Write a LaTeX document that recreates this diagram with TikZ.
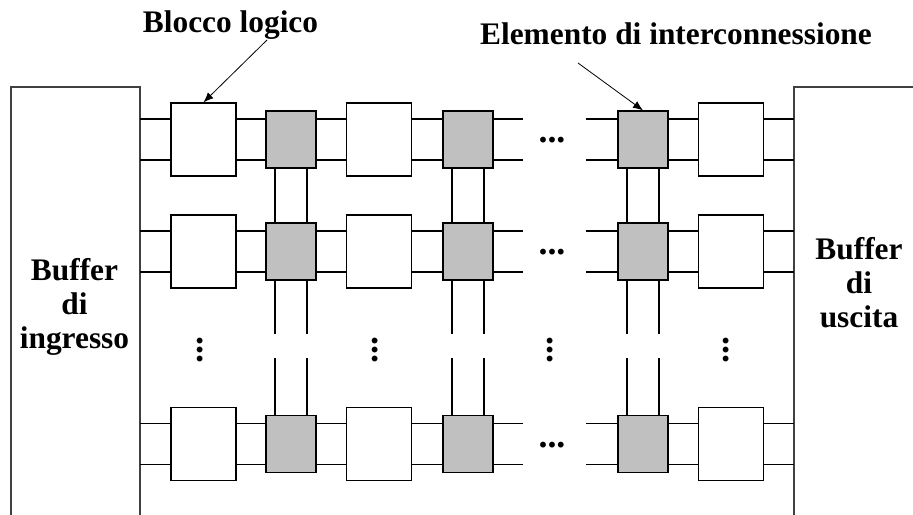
\documentclass[tikz,border=0pt]{standalone}
\usepackage{fontspec}
\setmainfont{Liberation Serif}
\usetikzlibrary{arrows.meta}
\definecolor{ieshade}{HTML}{C0C0C0}
\tikzset{
        logic/.style={draw=black, line width=1.2bp, fill=white, minimum width=65bp, minimum height=73bp, inner sep=0pt},
        inter/.style={draw=black, line width=1.2bp, fill=ieshade, minimum width=50bp, minimum height=57bp, inner sep=0pt},
        wire/.style={line width=1.9bp},
        buffer/.style={line width=1.1bp, draw=black!75},
        caption/.style={font=\bfseries\fontsize{31.5}{34}\selectfont, inner sep=0pt, align=center},
        more/.style={font=\bfseries\fontsize{36}{36}\selectfont, inner sep=0pt},
        pointer/.style={line width=0.8bp, -{Latex[length=10bp, width=8bp]}}
          }

\begin{document}
\begin{tikzpicture}[x=1bp, y=-1bp]
  \useasboundingbox (0,0) rectangle (913,515);

  % buffers at both sides
  \draw[buffer] (11,515) -- (11,87) -- (140,87) -- (140,515);
  \draw[buffer] (794,515) -- (794,87) -- (913,87);

  % rows of logic blocks and interconnection elements
  \foreach \r/\y in {1/139.5, 2/251.5, 3/444}{
    \node[logic] (L\r1) at (203.5,\y) {};
    \node[inter] (I\r1) at (291,\y) {};
    \node[logic] (L\r2) at (379,\y) {};
    \node[inter] (I\r2) at (468,\y) {};
    \node[inter] (I\r3) at (643,\y) {};
    \node[logic] (L\r3) at (731,\y) {};
    \coordinate (in\r) at (140,\y);
    \coordinate (out\r) at (794,\y);
    \coordinate (gl\r) at (523,\y);
    \coordinate (gr\r) at (586,\y);
    \node[more] (hd\r) at (552,\y+1) {...};
  }

  \foreach \r in {1,2,3}
    \foreach \dy in {20.5,-20.5}
      \draw[wire] ([yshift=\dy bp]in\r) -- ([yshift=\dy bp]L\r1.west)
                  ([yshift=\dy bp]L\r1.east) -- ([yshift=\dy bp]I\r1.west)
                  ([yshift=\dy bp]I\r1.east) -- ([yshift=\dy bp]L\r2.west)
                  ([yshift=\dy bp]L\r2.east) -- ([yshift=\dy bp]I\r2.west)
                  ([yshift=\dy bp]I\r2.east) -- ([yshift=\dy bp]gl\r)
                  ([yshift=\dy bp]gr\r) -- ([yshift=\dy bp]I\r3.west)
                  ([yshift=\dy bp]I\r3.east) -- ([yshift=\dy bp]L\r3.west)
                  ([yshift=\dy bp]L\r3.east) -- ([yshift=\dy bp]out\r);

  % vertical links between interconnection elements
  \foreach \c/\x in {1/291, 2/468, 3/643}{
    \coordinate (cut\c) at (\x,334);
    \coordinate (rest\c) at (\x,358);
    \foreach \dx in {16,-16}
      \draw[wire] ([xshift=\dx bp]I1\c.south) -- ([xshift=\dx bp]I2\c.north)
                  ([xshift=\dx bp]I2\c.south) -- ([xshift=\dx bp]cut\c)
                  ([xshift=\dx bp]rest\c) -- ([xshift=\dx bp]I3\c.north);
  }

  \foreach \n/\x in {1/200, 2/375, 3/550, 4/726}
    \node[more, rotate=90] (vd\n) at (\x,350) {...};

  \node[caption, anchor=north] (inbuf) at (74.5,258) {Buffer\\di\\ingresso};
  \node[caption, anchor=north] (outbuf) at (859,237) {Buffer\\di\\uscita};

  \node[caption, anchor=base] (blocco) at (230.5,33) {Blocco logico};
  \node[caption, anchor=base] (elem) at (676,45) {Elemento di interconnessione};
  \coordinate (bltail) at (267,40);
  \coordinate (eltail) at (578,63);
  \draw[pointer] (bltail) -- (L11.north);
  \draw[pointer] (eltail) -- (I13.north);
\end{tikzpicture}
\end{document}
